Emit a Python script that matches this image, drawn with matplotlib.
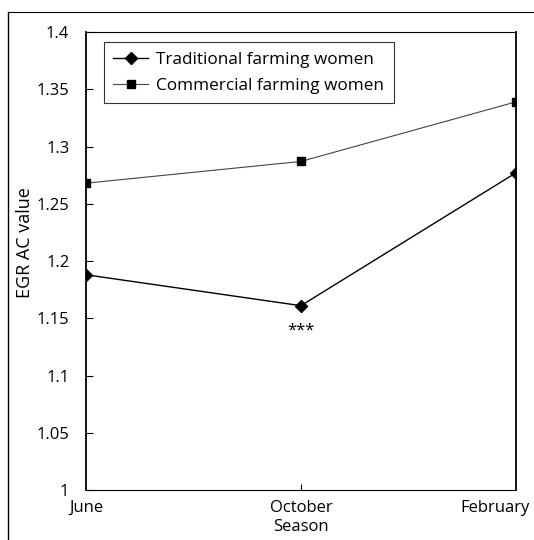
import matplotlib
matplotlib.use('Agg')
import matplotlib.pyplot as plt
import matplotlib.transforms as mtransforms
from matplotlib.lines import Line2D

seasons = ['June', 'October', 'February']
traditional = [1.188, 1.161, 1.277]
commercial = [1.268, 1.287, 1.339]
yticks = [1, 1.05, 1.1, 1.15, 1.2, 1.25, 1.3, 1.35, 1.4]
ytick_labels = ['1', '1.05', '1.1', '1.15', '1.2', '1.25', '1.3', '1.35', '1.4']

plt.rcParams['font.family'] = ['Open Sans', 'DejaVu Sans']

fig = plt.figure(figsize=(5.34, 5.40), dpi=100)
ax = fig.add_axes([0.161, 0.0926, 0.805, 0.848])

x = range(len(seasons))
ax.plot(x, traditional, '-', color='k', lw=1.0, marker='D', markersize=6,
        label='Traditional farming women')
ax.plot(x, commercial, '-', color='#444444', lw=0.8, marker='s', markersize=6,
        markerfacecolor='k', markeredgecolor='k', label='Commercial farming women')

ax.annotate('***', (1, traditional[1]), xytext=(0, -18), textcoords='offset points',
            ha='center', va='center', fontsize=12)

ax.set_xlim(0, 2)
ax.set_ylim(1, 1.4)
ax.set_yticks(yticks)
ax.set_yticklabels(ytick_labels, fontsize=12)
ax.set_xticks([1])
ax.set_xticklabels([''])
ax.tick_params(axis='y', direction='in', length=5, width=0.8, pad=12)
ax.tick_params(axis='x', direction='in', length=4, width=0.8)

# season names under the axis
for i, name in enumerate(seasons):
    ha = 'center'
    dx = 0
    if i == len(seasons) - 1:
        ha = 'right'
        dx = 0.14
    tr = ax.get_xaxis_transform() + mtransforms.ScaledTranslation(dx, 0, fig.dpi_scale_trans)
    ax.text(i, -0.022, name, transform=tr, ha=ha, va='top', fontsize=12)
ax.text(1, -0.064, 'Season', transform=ax.get_xaxis_transform(), ha='center', va='top', fontsize=12)

ax.set_ylabel('EGR AC value', fontsize=13)
ax.yaxis.set_label_coords(-0.12, 0.54)

for side in ['left', 'right']:
    ax.spines[side].set_linewidth(1.3)
for side in ['top', 'bottom']:
    ax.spines[side].set_linewidth(0.8)

leg = ax.legend(loc='upper left', bbox_to_anchor=(0.042, 0.978), borderaxespad=0,
                fontsize=12.3, frameon=True, fancybox=False, edgecolor='k',
                handlelength=2.0, handletextpad=0.5, borderpad=0.55, labelspacing=0.6)
leg.get_frame().set_linewidth(0.8)

# scan frame on the left and top
fig.add_artist(Line2D([8 / 534, 8 / 534], [0, 1 - 12 / 540], color='k', lw=1.0,
                      transform=fig.transFigure))
fig.add_artist(Line2D([8 / 534, 1], [1 - 12 / 540, 1 - 12 / 540], color='k', lw=0.8,
                      transform=fig.transFigure))

fig.savefig('out.png', dpi=100)
